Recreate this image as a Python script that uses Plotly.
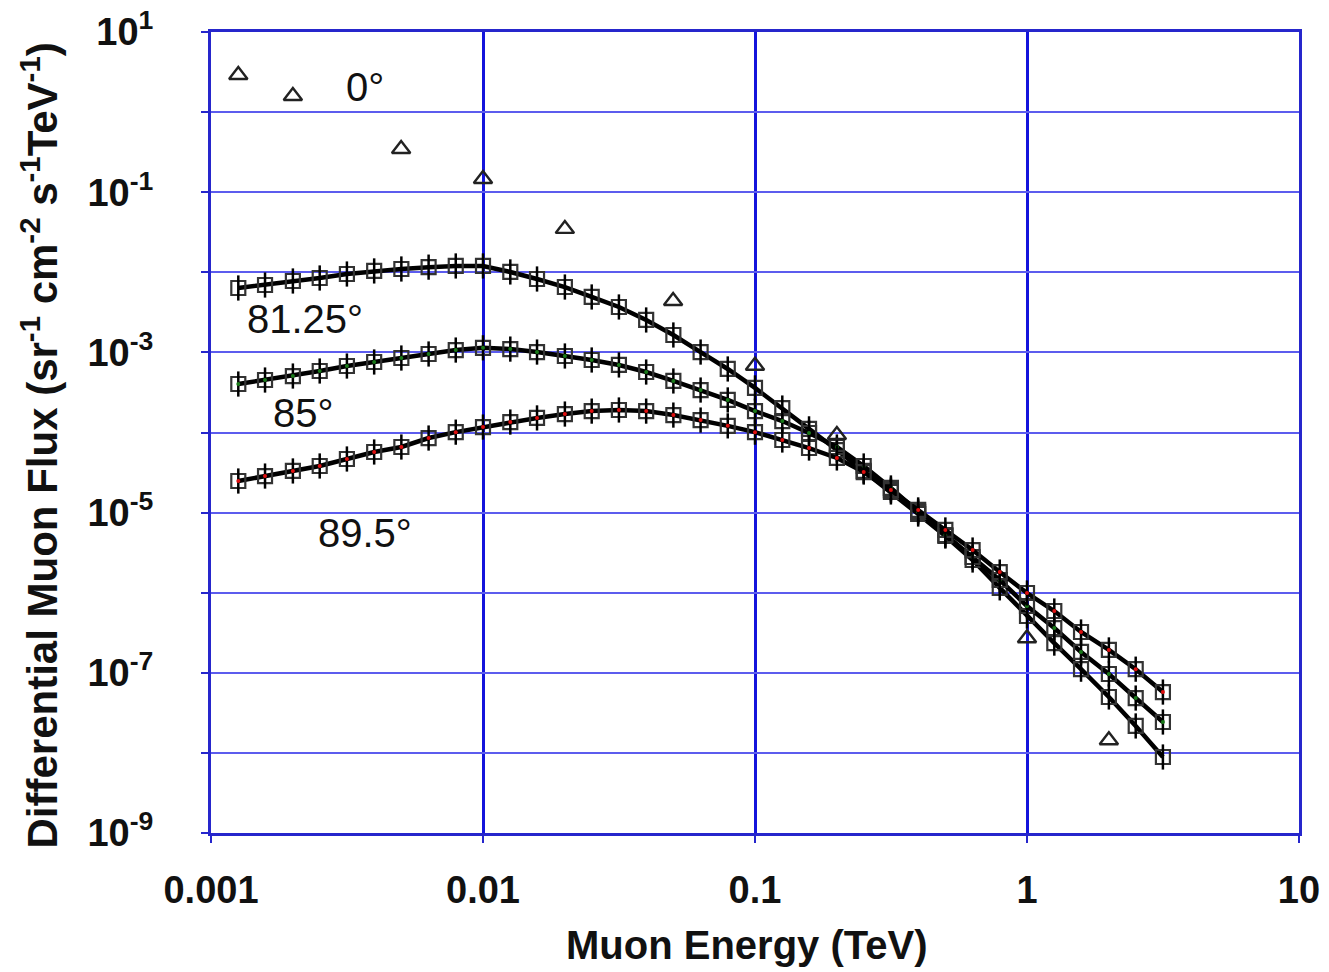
import plotly.graph_objects as go

# Energy grid of the calculated curves (TeV)
energy = [0.00126, 0.00158, 0.002, 0.00251, 0.00316, 0.00398, 0.00501, 0.00631, 0.00794, 0.01,
          0.0126, 0.0158, 0.02, 0.0251, 0.0316, 0.0398, 0.0501, 0.0631, 0.0794, 0.1,
          0.126, 0.158, 0.2, 0.251, 0.316, 0.398, 0.501, 0.631, 0.794, 1.0,
          1.26, 1.58, 2.0, 2.51, 3.16]

flux_81_25 = [6.37e-3, 6.94e-3, 7.79e-3, 8.49e-3, 9.52e-3, 1.04e-2, 1.10e-2, 1.16e-2, 1.20e-2, 1.20e-2,
              1.01e-2, 8.25e-3, 6.55e-3, 4.92e-3, 3.69e-3, 2.54e-3, 1.65e-3, 1.01e-3, 6.21e-4, 3.60e-4,
              2.02e-4, 1.11e-4, 6.04e-5, 3.31e-5, 1.81e-5, 9.60e-6, 5.10e-6, 2.56e-6, 1.15e-6, 5.12e-7,
              2.35e-7, 1.11e-7, 4.99e-8, 2.17e-8, 8.89e-9]

flux_85 = [4.03e-4, 4.52e-4, 5.07e-4, 5.86e-4, 6.76e-4, 7.59e-4, 8.51e-4, 9.55e-4, 1.07e-3, 1.14e-3,
           1.10e-3, 1.01e-3, 9.02e-4, 8.04e-4, 6.97e-4, 5.69e-4, 4.40e-4, 3.39e-4, 2.55e-4, 1.85e-4,
           1.39e-4, 9.86e-5, 6.59e-5, 3.82e-5, 2.03e-5, 1.02e-5, 5.25e-6, 2.79e-6, 1.44e-6, 6.82e-7,
           3.62e-7, 1.82e-7, 9.66e-8, 4.84e-8, 2.43e-8]

flux_89_5 = [2.48e-5, 2.86e-5, 3.31e-5, 3.82e-5, 4.67e-5, 5.71e-5, 6.59e-5, 8.53e-5, 1.01e-4, 1.17e-4,
             1.35e-4, 1.52e-4, 1.70e-4, 1.85e-4, 1.91e-4, 1.85e-4, 1.65e-4, 1.43e-4, 1.21e-4, 1.01e-4,
             8.06e-5, 6.40e-5, 4.81e-5, 3.21e-5, 1.91e-5, 1.08e-5, 6.07e-6, 3.41e-6, 1.81e-6, 9.91e-7,
             5.91e-7, 3.23e-7, 1.93e-7, 1.11e-7, 5.75e-8]

# Vertical (0 deg) measurements
energy_0 = [0.00126, 0.002, 0.005, 0.01, 0.02, 0.05, 0.1, 0.2, 1.0, 2.0]
flux_0 = [2.9, 1.59, 0.346, 0.146, 0.0348, 0.00439, 6.8e-4, 9.3e-5, 2.7e-7, 1.44e-8]

x_tickvals = [0.001, 0.01, 0.1, 1, 10]
x_ticktext = ["<b>0.001</b>", "<b>0.01</b>", "<b>0.1</b>", "<b>1</b>", "<b>10</b>"]
y_exponents = [1, 0, -1, -2, -3, -4, -5, -6, -7, -8, -9]

FONT = "Arial, Liberation Sans, Helvetica, sans-serif"

fig = go.Figure()

curves = [(flux_81_25, None), (flux_85, "#1a7a1a"), (flux_89_5, "#e01010")]
for flux, dot in curves:
    fig.add_trace(go.Scatter(
        x=energy, y=flux, mode="lines+markers",
        line=dict(color="#000000", width=4.5),
        marker=dict(symbol="square-open", size=14, color="#333333", line=dict(width=2.2)),
        showlegend=False, hoverinfo="skip"))
    fig.add_trace(go.Scatter(
        x=energy, y=flux, mode="markers",
        marker=dict(symbol="line-ns", size=18, color="#000000", line=dict(width=2.5, color="#000000")),
        showlegend=False, hoverinfo="skip"))
    if dot:
        fig.add_trace(go.Scatter(
            x=energy, y=flux, mode="markers",
            marker=dict(symbol="circle", size=4, color=dot),
            showlegend=False, hoverinfo="skip"))

fig.add_trace(go.Scatter(
    x=energy_0, y=flux_0, mode="markers",
    marker=dict(symbol="triangle-up-open", size=16, color="#222222", line=dict(width=2.4)),
    showlegend=False, hoverinfo="skip"))

y_tickvals = [10.0 ** e for e in y_exponents]
y_ticktext = [f"<b>10<sup>{e}</sup></b>" if e % 2 != 0 else "" for e in y_exponents]

fig.update_xaxes(
    type="log", range=[-3, 1], automargin=False,
    tickvals=x_tickvals, ticktext=x_ticktext,
    showgrid=True, gridcolor="#1414dc", gridwidth=3,
    showline=True, linecolor="#2626cc", linewidth=3, mirror=True,
    ticks="outside", ticklen=7, tickwidth=2, tickcolor="#2626cc",
    tickfont=dict(family=FONT, size=38, color="#111111"),
    ticklabelstandoff=14, ticklabeloverflow="allow", zeroline=False)

fig.update_yaxes(
    type="log", range=[-9, 1], automargin=False,
    tickvals=y_tickvals, ticktext=y_ticktext,
    showgrid=True, gridcolor="#5c5cee", gridwidth=2,
    showline=True, linecolor="#2626cc", linewidth=3, mirror=True,
    ticks="outside", ticklen=7, tickwidth=2, tickcolor="#2626cc",
    tickfont=dict(family=FONT, size=38, color="#111111"),
    ticklabelstandoff=40, ticklabeloverflow="allow", zeroline=False)

labels = [("0°", 0.1415, 0.931), ("81.25°", 0.0864, 0.6417),
          ("85°", 0.0846, 0.5243), ("89.5°", 0.1415, 0.3745)]
for txt, px, py in labels:
    fig.add_annotation(text=txt, xref="paper", yref="paper", x=px, y=py,
                       showarrow=False, xanchor="center", yanchor="middle",
                       font=dict(family=FONT, size=40, color="#111111"))

fig.add_annotation(text="<b>Muon Energy (TeV)</b>", xref="paper", yref="paper",
                   x=0.4926, y=-0.1398, showarrow=False, xanchor="center", yanchor="middle",
                   font=dict(family=FONT, size=40, color="#111111"))
fig.add_annotation(text="<b>Differential Muon Flux (sr<sup>-1</sup> cm<sup>-2</sup> s<sup>-1</sup>TeV<sup>-1</sup>)</b>",
                   xref="paper", yref="paper", x=-0.157, y=0.484, textangle=-90,
                   showarrow=False, xanchor="center", yanchor="middle",
                   font=dict(family=FONT, size=42, color="#111111"))

# the page body adds an 8 px margin, so the figure is made 8 px smaller on each side
fig.update_layout(
    width=1321, height=964,
    margin=dict(l=203, r=30, t=24, b=139),
    paper_bgcolor="white", plot_bgcolor="white",
    font=dict(family=FONT, color="#111111"),
    showlegend=False)

fig.write_html("out.html")
